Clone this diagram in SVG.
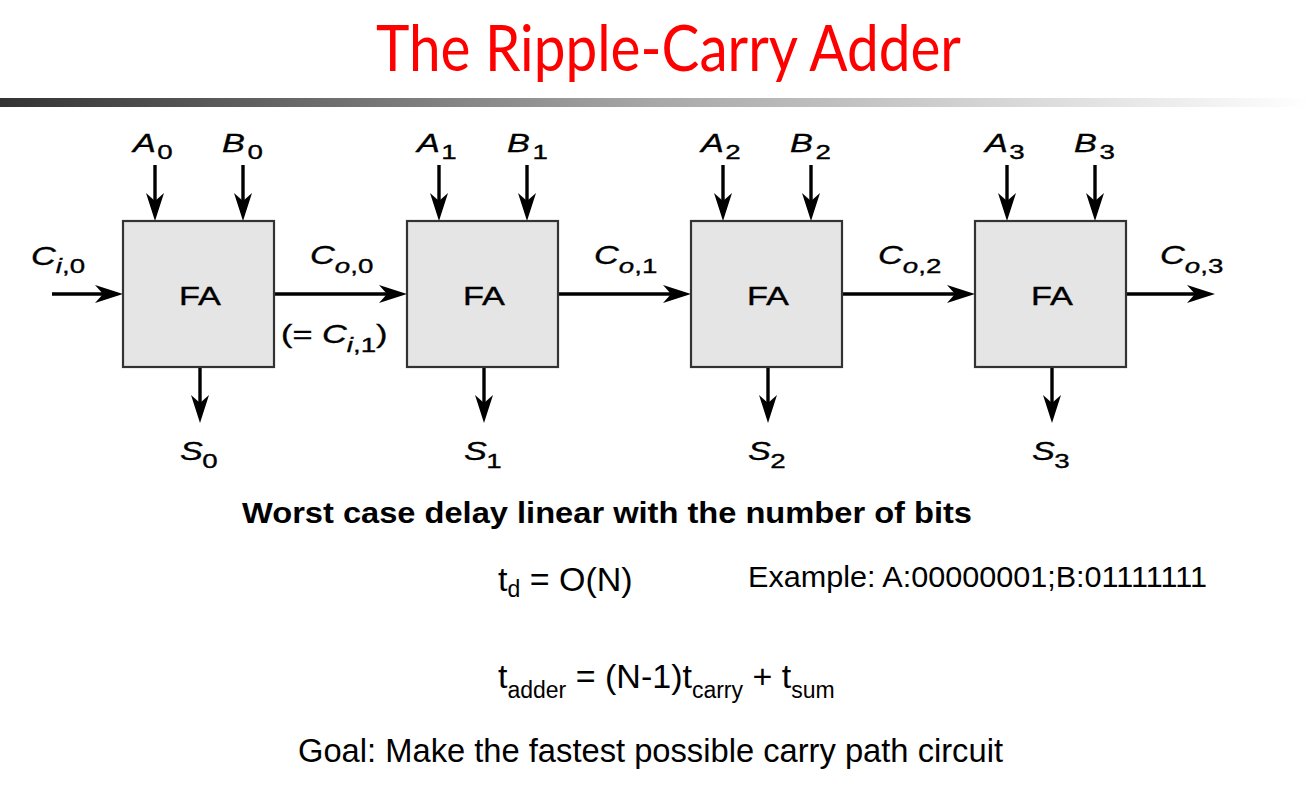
<svg xmlns="http://www.w3.org/2000/svg" width="1310" height="786" viewBox="0 0 1310 786">
<defs>
<linearGradient id="bar" x1="0" y1="0" x2="1" y2="0">
<stop offset="0" stop-color="#333333"/>
<stop offset="0.5" stop-color="#a8a8a8"/>
<stop offset="1" stop-color="#ffffff"/>
</linearGradient>
<marker id="ah" viewBox="0 0 28 18" markerWidth="28" markerHeight="18" refX="22" refY="9" orient="auto" markerUnits="userSpaceOnUse">
<path d="M0,0 L28,9 L0,18 L8,9 Z" fill="#000"/>
</marker>
</defs>
<style>
.box{fill:#e5e5e5;stroke:#333;stroke-width:2.2}
.wire{stroke:#000;stroke-width:3.4;fill:none;marker-end:url(#ah)}
.lab{font-family:"Liberation Sans",Arial,sans-serif;font-size:26px;fill:#000;stroke:#000;stroke-width:0.35}
.it{font-style:italic}
.up{font-style:normal}
.sub{font-size:21px}
.fa{font-family:"Liberation Sans",Arial,sans-serif;font-size:26px;text-anchor:middle;fill:#000;stroke:#000;stroke-width:0.35}
.body{font-family:"Liberation Sans",Arial,sans-serif;fill:#000}
</style>
<rect width="1310" height="786" fill="#fff"/>
<text x="376" y="71" font-family="Lato,'Open Sans',sans-serif" font-size="64" fill="#ff0000" textLength="585" lengthAdjust="spacingAndGlyphs">The Ripple-Carry Adder</text>
<rect x="0" y="98" width="1310" height="9" fill="url(#bar)"/>

<g id="connectors">
<line class="wire" x1="52" y1="294" x2="117" y2="294"/>
<line class="wire" x1="274" y1="294" x2="401" y2="294"/>
<line class="wire" x1="558" y1="294" x2="685" y2="294"/>
<line class="wire" x1="842" y1="294" x2="969" y2="294"/>
<line class="wire" x1="1126" y1="294" x2="1209" y2="294"/>
<line class="wire" x1="155" y1="165" x2="155" y2="215"/>
<line class="wire" x1="243" y1="165" x2="243" y2="215"/>
<line class="wire" x1="200" y1="368" x2="200" y2="417"/>
<line class="wire" x1="439" y1="165" x2="439" y2="215"/>
<line class="wire" x1="527" y1="165" x2="527" y2="215"/>
<line class="wire" x1="484" y1="368" x2="484" y2="417"/>
<line class="wire" x1="723" y1="165" x2="723" y2="215"/>
<line class="wire" x1="811" y1="165" x2="811" y2="215"/>
<line class="wire" x1="768" y1="368" x2="768" y2="417"/>
<line class="wire" x1="1007" y1="165" x2="1007" y2="215"/>
<line class="wire" x1="1095" y1="165" x2="1095" y2="215"/>
<line class="wire" x1="1052" y1="368" x2="1052" y2="417"/>
</g>

<g id="fa0">
<rect class="box" x="123" y="221" width="151" height="146"/>
<text class="fa" transform="translate(200,305) scale(1.32,1)">FA</text>
</g>
<g id="fa1">
<rect class="box" x="407" y="221" width="151" height="146"/>
<text class="fa" transform="translate(484,305) scale(1.32,1)">FA</text>
</g>
<g id="fa2">
<rect class="box" x="691" y="221" width="151" height="146"/>
<text class="fa" transform="translate(768,305) scale(1.32,1)">FA</text>
</g>
<g id="fa3">
<rect class="box" x="975" y="221" width="151" height="146"/>
<text class="fa" transform="translate(1052,305) scale(1.32,1)">FA</text>
</g>

<g id="labels">
<text class="lab it" transform="translate(133,152) scale(1.32,1)">A<tspan class="sub up" dx="1" dy="7">0</tspan></text>
<text class="lab it" transform="translate(222,152) scale(1.32,1)">B<tspan class="sub up" dx="2" dy="7">0</tspan></text>
<text class="lab it" transform="translate(417,152) scale(1.32,1)">A<tspan class="sub up" dx="1" dy="7">1</tspan></text>
<text class="lab it" transform="translate(507,152) scale(1.32,1)">B<tspan class="sub up" dx="2" dy="7">1</tspan></text>
<text class="lab it" transform="translate(701,152) scale(1.32,1)">A<tspan class="sub up" dx="1" dy="7">2</tspan></text>
<text class="lab it" transform="translate(790,152) scale(1.32,1)">B<tspan class="sub up" dx="2" dy="7">2</tspan></text>
<text class="lab it" transform="translate(985,152) scale(1.32,1)">A<tspan class="sub up" dx="1" dy="7">3</tspan></text>
<text class="lab it" transform="translate(1074,152) scale(1.32,1)">B<tspan class="sub up" dx="2" dy="7">3</tspan></text>

<text class="lab it" transform="translate(180,460) scale(1.32,1)">S<tspan class="sub up" dx="-0.5" dy="8">0</tspan></text>
<text class="lab it" transform="translate(464,460) scale(1.32,1)">S<tspan class="sub up" dx="-0.5" dy="8">1</tspan></text>
<text class="lab it" transform="translate(748,460) scale(1.32,1)">S<tspan class="sub up" dx="-0.5" dy="8">2</tspan></text>
<text class="lab it" transform="translate(1032,460) scale(1.32,1)">S<tspan class="sub up" dx="-0.5" dy="8">3</tspan></text>

<text class="lab it" transform="translate(31,265) scale(1.32,1)">C<tspan class="sub" dy="8">i</tspan><tspan class="sub up">,0</tspan></text>
<text class="lab it" transform="translate(310,264) scale(1.32,1)">C<tspan class="sub" dx="0" dy="9">o</tspan><tspan class="sub up">,0</tspan></text>
<text class="lab it" transform="translate(594,264) scale(1.32,1)">C<tspan class="sub" dx="0" dy="9">o</tspan><tspan class="sub up">,1</tspan></text>
<text class="lab it" transform="translate(878,264) scale(1.32,1)">C<tspan class="sub" dx="0" dy="9">o</tspan><tspan class="sub up">,2</tspan></text>
<text class="lab it" transform="translate(1160,264) scale(1.32,1)">C<tspan class="sub" dx="0" dy="9">o</tspan><tspan class="sub up">,3</tspan></text>
<text class="lab" transform="translate(281,343) scale(1.32,1)">(= <tspan class="it">C</tspan><tspan class="sub it" dy="9">i</tspan><tspan class="sub">,1</tspan><tspan dy="-9">)</tspan></text>
</g>

<g id="notes">
<text class="body" x="242" y="523" font-size="29" font-weight="bold" textLength="730" lengthAdjust="spacingAndGlyphs">Worst case delay linear with the number of bits</text>
<text class="body" x="498" y="591" font-size="34">t<tspan font-size="23" dy="6">d</tspan><tspan dy="-6"> = O(N)</tspan></text>
<text class="body" x="748" y="587" font-size="30" textLength="459" lengthAdjust="spacingAndGlyphs">Example: A:00000001;B:01111111</text>
<text class="body" x="498" y="688" font-size="34">t<tspan font-size="23" dy="10">adder</tspan><tspan dy="-10"> = (N-1)t</tspan><tspan font-size="23" dy="10">carry</tspan><tspan dy="-10"> + t</tspan><tspan font-size="23" dy="10">sum</tspan></text>
<text class="body" x="298" y="762" font-size="32.7" textLength="705" lengthAdjust="spacingAndGlyphs">Goal: Make the fastest possible carry path circuit</text>
</g>
</svg>
